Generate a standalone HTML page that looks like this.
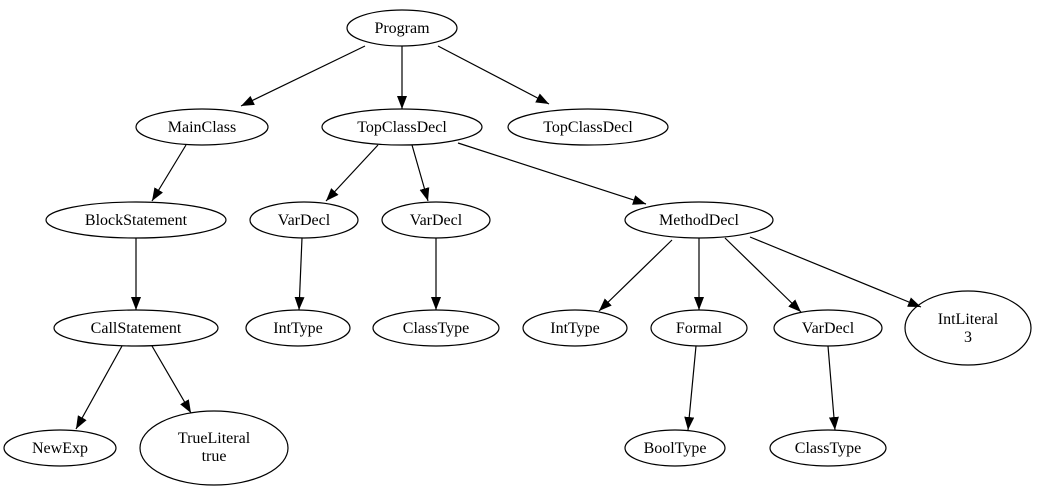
<!DOCTYPE html>
<html><head><style>body{margin:0;background:#fff}svg{display:block}text{font-family:"Liberation Serif",serif;font-size:16px;text-anchor:middle}</style></head>
<body>
<svg width="1037" height="490" viewBox="0 0 1037 490" xmlns="http://www.w3.org/2000/svg">
<defs><marker id="a" markerWidth="13" markerHeight="10" refX="13" refY="5" orient="auto" markerUnits="userSpaceOnUse"><path d="M0,0L13,5L0,10z" fill="#000"/></marker></defs>
<g fill="none" stroke="#000" stroke-width="1.2">
<ellipse cx="402" cy="28" rx="55" ry="18"/>
<ellipse cx="202" cy="127" rx="66" ry="18"/>
<ellipse cx="402" cy="127" rx="80" ry="18"/>
<ellipse cx="588" cy="127" rx="80" ry="18"/>
<ellipse cx="136" cy="220" rx="90" ry="18"/>
<ellipse cx="304" cy="220" rx="54" ry="18"/>
<ellipse cx="436" cy="220" rx="54" ry="18"/>
<ellipse cx="699" cy="220" rx="74" ry="18"/>
<ellipse cx="136" cy="328" rx="82" ry="18"/>
<ellipse cx="298" cy="328" rx="52" ry="18"/>
<ellipse cx="436" cy="328" rx="63" ry="18"/>
<ellipse cx="575" cy="328" rx="52" ry="18"/>
<ellipse cx="699" cy="328" rx="48" ry="18"/>
<ellipse cx="828" cy="328" rx="54" ry="18"/>
<ellipse cx="968" cy="328" rx="63" ry="37"/>
<ellipse cx="60" cy="448" rx="56" ry="18"/>
<ellipse cx="214" cy="448" rx="74" ry="37"/>
<ellipse cx="675" cy="448" rx="50" ry="18"/>
<ellipse cx="828" cy="448" rx="58" ry="18"/>
<g marker-end="url(#a)">
<line x1="365" y1="46" x2="241" y2="106"/>
<line x1="402" y1="46" x2="402" y2="109"/>
<line x1="438" y1="46" x2="549" y2="104"/>
<line x1="186" y1="145" x2="152" y2="201"/>
<line x1="378" y1="145" x2="326" y2="201"/>
<line x1="412" y1="145" x2="428" y2="201"/>
<line x1="458" y1="143" x2="646" y2="204"/>
<line x1="136" y1="238" x2="136" y2="310"/>
<line x1="302" y1="238" x2="299" y2="310"/>
<line x1="436" y1="238" x2="436" y2="310"/>
<line x1="672" y1="240" x2="599" y2="311"/>
<line x1="699" y1="238" x2="699" y2="310"/>
<line x1="725" y1="238" x2="801" y2="312"/>
<line x1="750" y1="237" x2="921" y2="307"/>
<line x1="122" y1="346" x2="76" y2="429"/>
<line x1="152" y1="346" x2="191" y2="413"/>
<line x1="696" y1="346" x2="688" y2="430"/>
<line x1="828" y1="346" x2="835" y2="430"/>
</g></g>
<g fill="#000">
<text x="402" y="33">Program</text>
<text x="202" y="132">MainClass</text>
<text x="402" y="132">TopClassDecl</text>
<text x="588" y="132">TopClassDecl</text>
<text x="136" y="225">BlockStatement</text>
<text x="304" y="225">VarDecl</text>
<text x="436" y="225">VarDecl</text>
<text x="699" y="225">MethodDecl</text>
<text x="136" y="333">CallStatement</text>
<text x="298" y="333">IntType</text>
<text x="436" y="333">ClassType</text>
<text x="575" y="333">IntType</text>
<text x="699" y="333">Formal</text>
<text x="828" y="333">VarDecl</text>
<text x="968" y="324">IntLiteral</text>
<text x="968" y="342">3</text>
<text x="60" y="453">NewExp</text>
<text x="214" y="443">TrueLiteral</text>
<text x="214" y="461">true</text>
<text x="675" y="453">BoolType</text>
<text x="828" y="453">ClassType</text>
</g>
</svg>
</body></html>
